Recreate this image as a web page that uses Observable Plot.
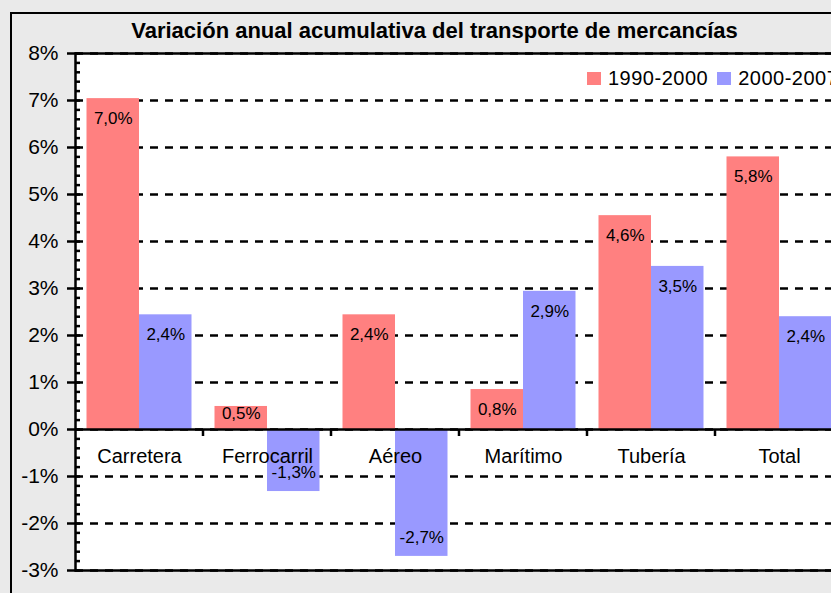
<!DOCTYPE html>
<html>
<head>
<meta charset="utf-8">
<script src="https://cdn.jsdelivr.net/npm/d3@7"></script>
<script src="https://cdn.jsdelivr.net/npm/@observablehq/plot@0.6"></script>
<style>
  html, body { margin: 0; padding: 0; width: 831px; height: 593px; overflow: hidden; background: #eaeaea;
    font-family: "Liberation Sans", Arial, sans-serif; }
  #border { position: absolute; left: 10px; top: 12px; width: 1000px; height: 1000px;
    border: 2px solid #000; box-sizing: border-box; }
  #title { position: absolute; left: 0; width: 869px; top: 19px; text-align: center; font-weight: bold;
    font-size: 22px; line-height: 24px; color: #000; white-space: nowrap; }
  #chart { position: absolute; left: 0; top: 0; width: 870px; height: 593px; }
  #chart svg { max-width: none !important; width: 870px !important; height: 593px !important; }
  #legend { position: absolute; left: 587px; top: 66px; display: flex; align-items: center;
    font-size: 20px; line-height: 24px; white-space: nowrap; color: #000; letter-spacing: 0.5px; }
  #legend .sw { display: inline-block; width: 14px; height: 13px; margin-right: 7px; }
  #legend .item { display: flex; align-items: center; margin-right: 9px; }
</style>
</head>
<body>
<div id="border"></div>
<div id="title"></div>
<div id="chart"></div>
<div id="legend"></div>
<script>
const title = "Variación anual acumulativa del transporte de mercancías";
const categories = ["Carretera", "Ferrocarril", "Aéreo", "Marítimo", "Tubería", "Total"];
const seriesNames = ["1990-2000", "2000-2007"];
const values1990 = [7.04, 0.49, 2.44, 0.85, 4.55, 5.80];
const values2000 = [2.44, -1.32, -2.70, 2.94, 3.47, 2.40];
const labels1990 = ["7,0%", "0,5%", "2,4%", "0,8%", "4,6%", "5,8%"];
const labels2000 = ["2,4%", "-1,3%", "-2,7%", "2,9%", "3,5%", "2,4%"];
const seriesColors = ["#FF8080", "#9999FF"];
const yTicks = [-3, -2, -1, 0, 1, 2, 3, 4, 5, 6, 7, 8];
const yTickLabels = ["-3%", "-2%", "-1%", "0%", "1%", "2%", "3%", "4%", "5%", "6%", "7%", "8%"];
const minorTicks = d3.range(-15, 41).map(i => i / 5);

document.getElementById("title").textContent = title;

const rows1 = categories.map((c, i) => ({category: c, value: values1990[i], label: labels1990[i]}));
const rows2 = categories.map((c, i) => ({category: c, value: values2000[i], label: labels2000[i]}));

// layout constants (pixels)
const gap = 11.5, barW = 52.5, half = barW / 2;
const font = "Liberation Sans, Arial, sans-serif";

const chart = Plot.plot({
  width: 870, height: 593,
  marginLeft: 75, marginRight: 27, marginTop: 53, marginBottom: 23,
  style: {background: "transparent", fontFamily: font, color: "black", overflow: "visible", maxWidth: "none"},
  x: {type: "band", domain: categories, padding: 0, axis: null, label: null},
  y: {domain: [-3, 8], axis: null, label: null},
  marks: [
    Plot.frame({fill: "white", stroke: null}),
    Plot.ruleY(yTicks, {stroke: "black", strokeWidth: 2.5, strokeDasharray: "8,7"}),
    Plot.barY(rows1, {x: "category", y: "value", fill: seriesColors[0], insetLeft: gap, insetRight: gap + barW}),
    Plot.barY(rows2, {x: "category", y: "value", fill: seriesColors[1], insetLeft: gap + barW, insetRight: gap}),
    Plot.ruleY([0], {stroke: "black", strokeWidth: 2.5}),
    Plot.frame({stroke: "black", strokeWidth: 2.5}),
    // data labels, 1990-2000
    Plot.text(rows1, {filter: d => d.value >= 0.6, x: "category", y: "value", text: "label", dx: -half, dy: 20, fontSize: 17, fill: "black"}),
    Plot.text(rows1, {filter: d => d.value >= 0 && d.value < 0.6, x: "category", y: "value", text: "label", dx: -half, dy: 7, fontSize: 17, fill: "black"}),
    // category labels
    Plot.text(categories, {x: d => d, y: 0, dy: 27, fontSize: 20, fill: "black"}),
    // data labels, 2000-2007
    Plot.text(rows2, {filter: d => d.value >= 0, x: "category", y: "value", text: "label", dx: half, dy: 20, fontSize: 17, fill: "black"}),
    Plot.text(rows2, {filter: d => d.value < 0, x: "category", y: "value", text: "label", dx: half, dy: -19, fontSize: 17, fill: "black"}),
    // y axis
    Plot.axisY(yTicks, {tickSize: 8, tickPadding: 9, tickFormat: d => yTickLabels[yTicks.indexOf(d)], fontSize: 21, strokeWidth: 2.5, label: null}),
    Plot.axisY(minorTicks, {tickSize: -5, tickFormat: () => "", strokeWidth: 2.5, label: null})
  ]
});
document.getElementById("chart").appendChild(chart);

// tick marks on the category axis at band boundaries, from the plot's own scales
const xs = chart.scale("x"), ys = chart.scale("y");
const y0 = ys.apply(0);
const svg = d3.select(chart.tagName.toLowerCase() === "svg" ? chart : chart.querySelector("svg"));
const g = svg.append("g").attr("stroke", "black").attr("stroke-width", 2.5);
for (let i = 1; i < categories.length; i++) {
  const x = xs.range[0] + i * xs.step;
  g.append("line").attr("x1", x).attr("x2", x).attr("y1", y0).attr("y2", y0 + 7);
}

// legend
const legend = document.getElementById("legend");
seriesNames.forEach((s, i) => {
  const item = document.createElement("span");
  item.className = "item";
  const sw = document.createElement("span");
  sw.className = "sw";
  sw.style.background = seriesColors[i];
  item.appendChild(sw);
  item.appendChild(document.createTextNode(s));
  legend.appendChild(item);
});
</script>
</body>
</html>
